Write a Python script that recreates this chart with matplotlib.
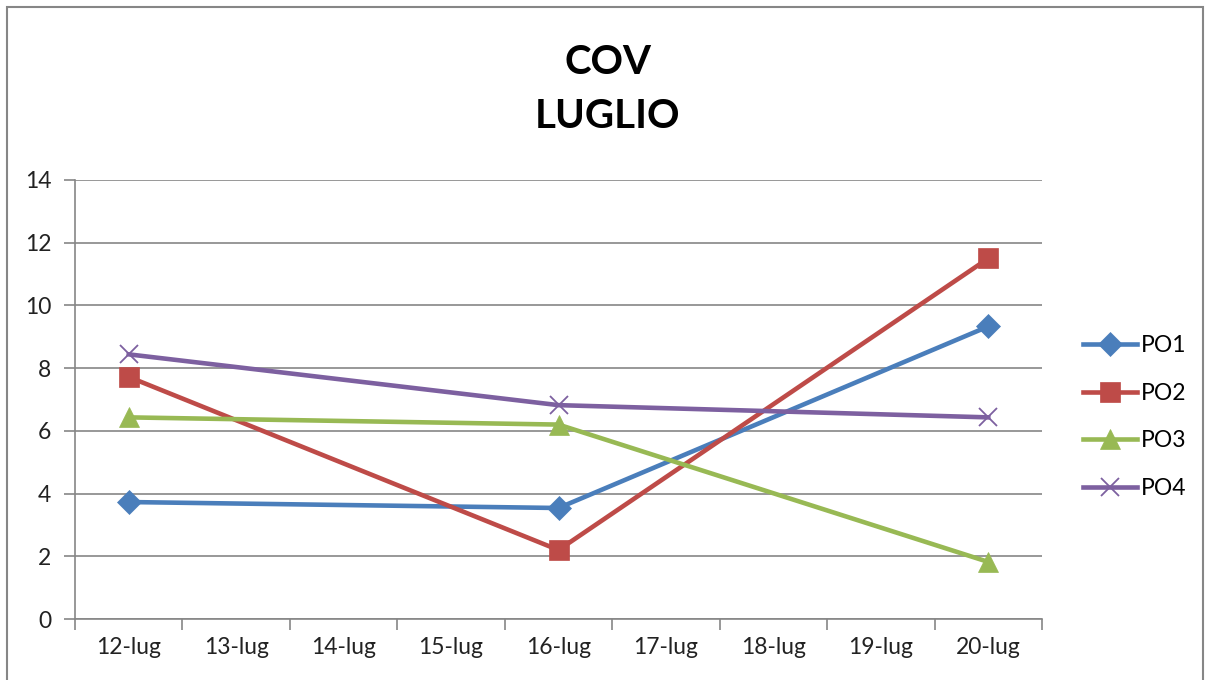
import matplotlib.pyplot as plt
from matplotlib.patches import Rectangle

# dati
days = ["12-lug", "13-lug", "14-lug", "15-lug", "16-lug", "17-lug", "18-lug", "19-lug", "20-lug"]
measured_idx = [0, 4, 8]  # 12, 16, 20 luglio
po1 = [3.73, 3.54, 9.33]
po2 = [7.72, 2.2, 11.5]
po3 = [6.43, 6.2, 1.82]
po4 = [8.44, 6.82, 6.43]

plt.rcParams['font.family'] = ['Lato', 'DejaVu Sans']

fig = plt.figure(figsize=(12.11, 6.80), dpi=100)
ax = fig.add_axes([75 / 1211, 1 - 619 / 680, (1042 - 75) / 1211, (619 - 180) / 680])

# cornice esterna stile Excel
fig.patches.append(Rectangle((7 / 1211, -0.01), 1196 / 1211, 1 - 7 / 680 + 0.01,
                             transform=fig.transFigure, fill=False,
                             edgecolor='#868686', lw=1.5))

series = [
    ("PO1", po1, '#4A7EBB', 'D', 12),
    ("PO2", po2, '#BE4B48', 's', 14),
    ("PO3", po3, '#98B954', '^', 15),
    ("PO4", po4, '#7D60A0', 'x', 13),
]
for name, vals, col, mk, ms in series:
    ax.plot(measured_idx, vals, color=col, lw=3.3, marker=mk, markersize=ms,
            markeredgewidth=1.3 if mk == 'x' else 0.5, markeredgecolor=col,
            label=name, zorder=3)

ax.set_ylim(0, 14)
ax.set_yticks(range(0, 15, 2))
ax.set_xlim(-0.5, len(days) - 0.5)
ax.set_xticks(range(len(days)))
ax.set_xticklabels(days)
ax.set_xticks([i - 0.5 for i in range(len(days) + 1)], minor=True)
ax.tick_params(axis='x', which='major', length=0, pad=13, labelsize=16.5, colors='#222222')
ax.tick_params(axis='x', which='minor', length=8, width=1.2, color='#868686')
ax.tick_params(axis='y', length=8, width=1.2, color='#868686', labelsize=16.5,
               labelcolor='#222222', pad=9)

ax.grid(axis='y', color='#868686', lw=1.2)
ax.set_axisbelow(True)
for s in ['top', 'right']:
    ax.spines[s].set_visible(False)
for s in ['left', 'bottom']:
    ax.spines[s].set_color('#868686')
    ax.spines[s].set_linewidth(1.2)

fig.text(608 / 1211, 1 - 62 / 680, "COV", ha='center', va='center',
         fontsize=29, fontweight='bold')
fig.text(608 / 1211, 1 - 117 / 680, "LUGLIO", ha='center', va='center',
         fontsize=29, fontweight='bold')

leg = fig.legend(loc='center left', bbox_to_anchor=(1074 / 1211, 1 - 417 / 680),
                 frameon=False, borderaxespad=0,
                 fontsize=16.5, handlelength=2.35, handletextpad=0.15, labelspacing=1.15)

fig.savefig("out.png", dpi=100)
